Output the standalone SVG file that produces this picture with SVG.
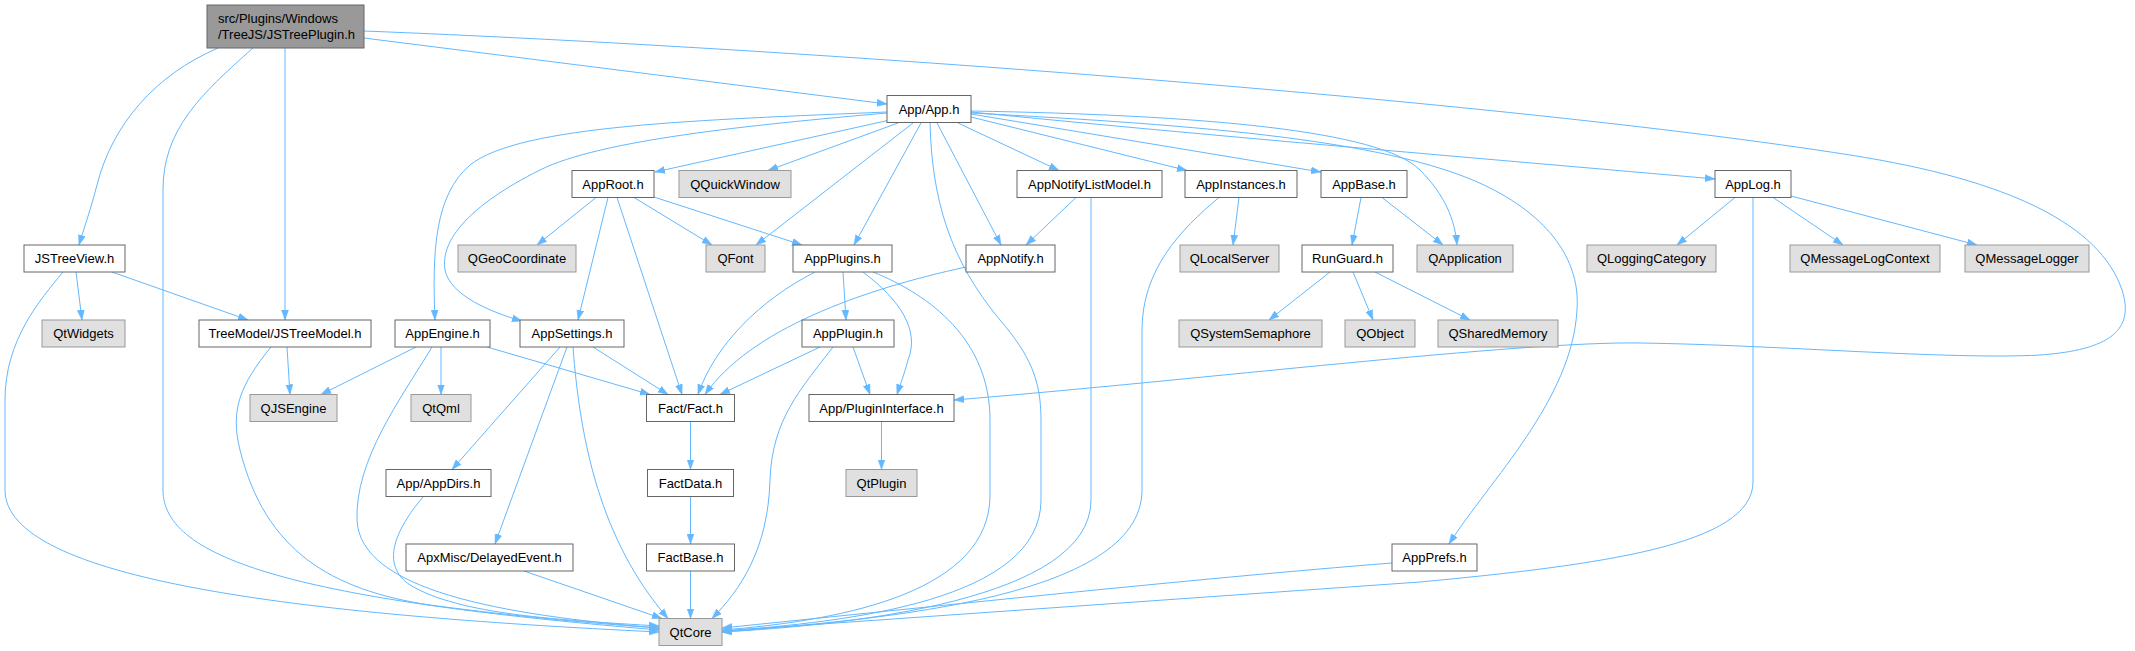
<svg xmlns="http://www.w3.org/2000/svg" width="2135" height="651" viewBox="0 0 2135 651">
<style>
.w{fill:#ffffff;stroke:#666666;stroke-width:1}
.g{fill:#e0e0e0;stroke:#999999;stroke-width:1}
.r{fill:#999999;stroke:#666666;stroke-width:1}
text{font-family:"Liberation Sans",Arial,sans-serif;font-size:13px;fill:#000000;text-anchor:middle}
.e{fill:none;stroke:#63b8ff;stroke-width:1;marker-end:url(#ah)}
</style>
<defs>
<marker id="ah" markerWidth="10" markerHeight="8" refX="10" refY="4" orient="auto" markerUnits="userSpaceOnUse">
<path d="M0,0.5 L10,4 L0,7.5 z" fill="#63b8ff" stroke="#63b8ff" stroke-width="0.5"/>
</marker>
</defs>
<rect width="2135" height="651" fill="#ffffff"/>
<g id="connectors">
<path class="e" d="M218,48 C155,75 112,125 97,185 C92,205 85,225 79,245"/>
<path class="e" d="M253,48 C200,95 163,130 163,190 L163,490 C163,560 300,600 659,630"/>
<path class="e" d="M285,48 L285,320"/>
<path class="e" d="M364,38 L887,104"/>
<path class="e" d="M364,31 C800,48 1500,100 1850,155 C2010,180 2100,225 2122,290 C2135,330 2110,350 2040,355 C1950,360 1780,345 1640,343 C1520,341 1200,380 954,400"/>
<path class="e" d="M76,272 L82,320"/>
<path class="e" d="M112,272 L248,320"/>
<path class="e" d="M63,272 C40,300 5,340 5,400 L5,490 C5,580 300,615 659,632"/>
<path class="e" d="M287,347 L290,394.5"/>
<path class="e" d="M271,347 C240,385 230,410 240,450 C265,550 330,590 430,605 C520,617 600,624 659,628"/>
<path class="e" d="M890,120 L655,172"/>
<path class="e" d="M898,123 L768,170.5"/>
<path class="e" d="M913,123 L756,245"/>
<path class="e" d="M921,123 L854,245"/>
<path class="e" d="M937,123 L1001,245"/>
<path class="e" d="M958,123 L1059,170.5"/>
<path class="e" d="M971,117 L1187,170.5"/>
<path class="e" d="M971,114 L1321,172"/>
<path class="e" d="M971,112 C1200,135 1500,160 1715,179"/>
<path class="e" d="M971,111 C1200,115 1380,130 1420,170 C1445,195 1455,220 1457,245"/>
<path class="e" d="M971,113 C1200,125 1400,140 1494,190 C1560,225 1580,270 1577,310 C1572,400 1490,480 1449,544"/>
<path class="e" d="M930,123 C932,200 950,260 1000,320 C1030,355 1041,380 1041,420 L1041,500 C1041,600 850,622 722,631"/>
<path class="e" d="M887,112 C700,120 520,125 470,165 C435,195 432,250 435,320"/>
<path class="e" d="M887,113 C750,125 600,140 540,170 C470,205 440,240 445,270 C450,295 490,312 522,321"/>
<path class="e" d="M596,197.5 L537,245"/>
<path class="e" d="M634,197.5 L712,245"/>
<path class="e" d="M654,197 L802,245"/>
<path class="e" d="M608,197.5 L578,320"/>
<path class="e" d="M617,197.5 L682,394.5"/>
<path class="e" d="M1076,197.5 L1026,245"/>
<path class="e" d="M1091,197.5 L1091,500 C1091,600 850,625 722,632"/>
<path class="e" d="M1239,197.5 L1233,245"/>
<path class="e" d="M1219,197.5 C1180,230 1142,270 1142,330 L1142,490 C1142,600 870,620 722,632"/>
<path class="e" d="M1361,197.5 L1352,245"/>
<path class="e" d="M1382,197.5 L1443,245"/>
<path class="e" d="M1735,197.5 L1677,245"/>
<path class="e" d="M1773,197.5 L1843,245"/>
<path class="e" d="M1791,196 L1977,245"/>
<path class="e" d="M1753,197.5 L1753,482 C1753,545 1600,565 1420,582 L722,631"/>
<path class="e" d="M1330,272 L1269,320"/>
<path class="e" d="M1353,272 L1373,320"/>
<path class="e" d="M1375,272 L1470,320"/>
<path class="e" d="M843,272 L846,320"/>
<path class="e" d="M815,272 C760,300 715,345 698,394.5"/>
<path class="e" d="M863,272 C900,300 920,330 908,360 C904,375 900,385 897,394.5"/>
<path class="e" d="M873,272 C930,295 990,340 990,420 L990,495 C990,590 850,620 722,630"/>
<path class="e" d="M966,267 C860,290 750,330 705,394.5"/>
<path class="e" d="M820,347 L720,394.5"/>
<path class="e" d="M853,347 L870,394.5"/>
<path class="e" d="M833,347 C800,390 772,420 770,480 C768,550 740,590 712,618.5"/>
<path class="e" d="M416,347 L321,394.5"/>
<path class="e" d="M441,347 L441,394.5"/>
<path class="e" d="M487,347 L650,394.5"/>
<path class="e" d="M432,347 C400,400 355,460 357,520 C360,590 500,615 659,628"/>
<path class="e" d="M593,347 L668,394.5"/>
<path class="e" d="M560,347 L452,469.5"/>
<path class="e" d="M567,347 L495,544"/>
<path class="e" d="M573,347 C580,440 600,540 668,618.5"/>
<path class="e" d="M423,497 C395,530 380,565 410,585 C460,615 560,620 659,626"/>
<path class="e" d="M524,571 L662,618.5"/>
<path class="e" d="M690.5,421.5 L690.5,469.5"/>
<path class="e" d="M690.5,496.5 L690.5,544"/>
<path class="e" d="M690.5,571 L690.5,618.5"/>
<path class="e" d="M881.5,421.5 L881.5,469.5"/>
<path class="e" d="M1392,563 C1200,578 900,610 722,628"/>
</g>
<g id="node_root"><rect class="r" x="207" y="5" width="157" height="43"/><text x="218" y="23" style="text-anchor:start">src/Plugins/Windows</text><text x="218" y="39" style="text-anchor:start">/TreeJS/JSTreePlugin.h</text></g>
<g id="node_app"><rect class="w" x="887" y="95.5" width="84" height="27"/><text x="929" y="113.5">App/App.h</text></g>
<g id="node_approot"><rect class="w" x="572" y="170.5" width="82" height="27"/><text x="613" y="188.5">AppRoot.h</text></g>
<g id="node_qquickwindow"><rect class="g" x="679" y="170.5" width="112" height="27"/><text x="735" y="188.5">QQuickWindow</text></g>
<g id="node_appnotifylistmodel"><rect class="w" x="1017" y="170.5" width="145" height="27"/><text x="1089.5" y="188.5">AppNotifyListModel.h</text></g>
<g id="node_appinstances"><rect class="w" x="1185" y="170.5" width="112" height="27"/><text x="1241" y="188.5">AppInstances.h</text></g>
<g id="node_appbase"><rect class="w" x="1321" y="170.5" width="86" height="27"/><text x="1364" y="188.5">AppBase.h</text></g>
<g id="node_applog"><rect class="w" x="1715" y="170.5" width="76" height="27"/><text x="1753" y="188.5">AppLog.h</text></g>
<g id="node_jstreeview"><rect class="w" x="24" y="245" width="101" height="27"/><text x="74.5" y="263">JSTreeView.h</text></g>
<g id="node_qgeocoordinate"><rect class="g" x="458" y="245" width="118" height="27"/><text x="517" y="263">QGeoCoordinate</text></g>
<g id="node_qfont"><rect class="g" x="706" y="245" width="59" height="27"/><text x="735.5" y="263">QFont</text></g>
<g id="node_appplugins"><rect class="w" x="793" y="245" width="99" height="27"/><text x="842.5" y="263">AppPlugins.h</text></g>
<g id="node_appnotify"><rect class="w" x="966" y="245" width="89" height="27"/><text x="1010.5" y="263">AppNotify.h</text></g>
<g id="node_qlocalserver"><rect class="g" x="1180" y="245" width="99" height="27"/><text x="1229.5" y="263">QLocalServer</text></g>
<g id="node_runguard"><rect class="w" x="1302" y="245" width="91" height="27"/><text x="1347.5" y="263">RunGuard.h</text></g>
<g id="node_qapplication"><rect class="g" x="1417" y="245" width="96" height="27"/><text x="1465" y="263">QApplication</text></g>
<g id="node_qloggingcategory"><rect class="g" x="1587" y="245" width="129" height="27"/><text x="1651.5" y="263">QLoggingCategory</text></g>
<g id="node_qmessagelogcontext"><rect class="g" x="1790" y="245" width="150" height="27"/><text x="1865" y="263">QMessageLogContext</text></g>
<g id="node_qmessagelogger"><rect class="g" x="1965" y="245" width="124" height="27"/><text x="2027" y="263">QMessageLogger</text></g>
<g id="node_qtwidgets"><rect class="g" x="42" y="320" width="83" height="27"/><text x="83.5" y="338">QtWidgets</text></g>
<g id="node_jstreemodel"><rect class="w" x="199" y="320" width="172" height="27"/><text x="285" y="338">TreeModel/JSTreeModel.h</text></g>
<g id="node_appengine"><rect class="w" x="395" y="320" width="95" height="27"/><text x="442.5" y="338">AppEngine.h</text></g>
<g id="node_appsettings"><rect class="w" x="520" y="320" width="104" height="27"/><text x="572" y="338">AppSettings.h</text></g>
<g id="node_appplugin"><rect class="w" x="802" y="320" width="92" height="27"/><text x="848" y="338">AppPlugin.h</text></g>
<g id="node_qsystemsemaphore"><rect class="g" x="1179" y="320" width="143" height="27"/><text x="1250.5" y="338">QSystemSemaphore</text></g>
<g id="node_qobject"><rect class="g" x="1345" y="320" width="70" height="27"/><text x="1380" y="338">QObject</text></g>
<g id="node_qsharedmemory"><rect class="g" x="1438" y="320" width="120" height="27"/><text x="1498" y="338">QSharedMemory</text></g>
<g id="node_qjsengine"><rect class="g" x="250" y="394.5" width="87" height="27"/><text x="293.5" y="412.5">QJSEngine</text></g>
<g id="node_qtqml"><rect class="g" x="411" y="394.5" width="60" height="27"/><text x="441" y="412.5">QtQml</text></g>
<g id="node_fact"><rect class="w" x="646.5" y="394.5" width="88" height="27"/><text x="690.5" y="412.5">Fact/Fact.h</text></g>
<g id="node_plugininterface"><rect class="w" x="809" y="394.5" width="145" height="27"/><text x="881.5" y="412.5">App/PluginInterface.h</text></g>
<g id="node_appdirs"><rect class="w" x="386" y="469.5" width="105" height="27"/><text x="438.5" y="487.5">App/AppDirs.h</text></g>
<g id="node_factdata"><rect class="w" x="647.5" y="469.5" width="86" height="27"/><text x="690.5" y="487.5">FactData.h</text></g>
<g id="node_qtplugin"><rect class="g" x="846" y="469.5" width="71" height="27"/><text x="881.5" y="487.5">QtPlugin</text></g>
<g id="node_delayedevent"><rect class="w" x="406" y="544" width="167" height="27"/><text x="489.5" y="562">ApxMisc/DelayedEvent.h</text></g>
<g id="node_factbase"><rect class="w" x="646.5" y="544" width="88" height="27"/><text x="690.5" y="562">FactBase.h</text></g>
<g id="node_appprefs"><rect class="w" x="1392" y="544" width="85" height="27"/><text x="1434.5" y="562">AppPrefs.h</text></g>
<g id="node_qtcore"><rect class="g" x="659" y="618.5" width="63" height="27"/><text x="690.5" y="636.5">QtCore</text></g>
</svg>
